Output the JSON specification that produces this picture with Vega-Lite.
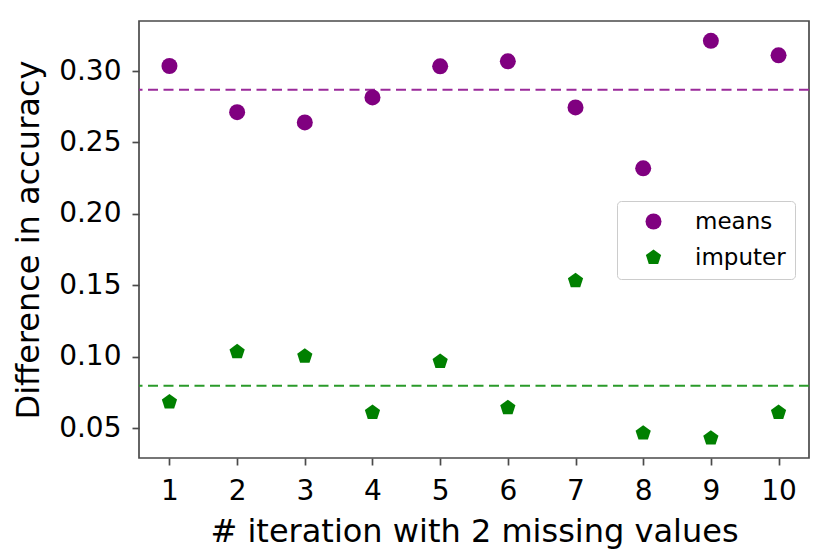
{
  "$schema": "https://vega.github.io/schema/vega-lite/v6.json",
  "width": 670,
  "height": 437,
  "autosize": {"type": "none"},
  "padding": {"left": 139, "top": 21, "right": 21, "bottom": 100},
  "background": "white",
  "config": {
    "font": "DejaVu Sans",
    "view": {"stroke": "#4a4a4a", "strokeWidth": 1.7},
    "axis": {
      "domain": false,
      "grid": false,
      "tickColor": "#4a4a4a",
      "tickWidth": 1.7,
      "tickSize": 7,
      "labelColor": "black",
      "labelFontSize": 28,
      "titleColor": "black",
      "titleFontSize": 32,
      "titleFontWeight": "normal",
      "labelFlush": false,
      "labelOverlap": false
    }
  },
  "data": {
    "values": [
      {"iteration": 1, "method": "means", "diff": 0.3035},
      {"iteration": 2, "method": "means", "diff": 0.2712},
      {"iteration": 3, "method": "means", "diff": 0.2640},
      {"iteration": 4, "method": "means", "diff": 0.2815},
      {"iteration": 5, "method": "means", "diff": 0.3033},
      {"iteration": 6, "method": "means", "diff": 0.3068},
      {"iteration": 7, "method": "means", "diff": 0.2745},
      {"iteration": 8, "method": "means", "diff": 0.2319},
      {"iteration": 9, "method": "means", "diff": 0.3211},
      {"iteration": 10, "method": "means", "diff": 0.3110},
      {"iteration": 1, "method": "imputer", "diff": 0.0683},
      {"iteration": 2, "method": "imputer", "diff": 0.1034},
      {"iteration": 3, "method": "imputer", "diff": 0.1003},
      {"iteration": 4, "method": "imputer", "diff": 0.0610},
      {"iteration": 5, "method": "imputer", "diff": 0.0966},
      {"iteration": 6, "method": "imputer", "diff": 0.0643},
      {"iteration": 7, "method": "imputer", "diff": 0.1532},
      {"iteration": 8, "method": "imputer", "diff": 0.0465},
      {"iteration": 9, "method": "imputer", "diff": 0.0430},
      {"iteration": 10, "method": "imputer", "diff": 0.0610}
    ]
  },
  "layer": [
    {
      "transform": [
        {"filter": "datum.method === 'means'"},
        {"aggregate": [{"op": "mean", "field": "diff", "as": "avg"}]}
      ],
      "mark": {"type": "rule", "color": "#9a2a9a", "strokeDash": [10, 5.5], "strokeWidth": 2},
      "encoding": {"y": {"field": "avg", "type": "quantitative"}}
    },
    {
      "transform": [
        {"filter": "datum.method === 'imputer'"},
        {"aggregate": [{"op": "mean", "field": "diff", "as": "avg"}]}
      ],
      "mark": {"type": "rule", "color": "#2a9a2a", "strokeDash": [10, 5.5], "strokeWidth": 2},
      "encoding": {"y": {"field": "avg", "type": "quantitative"}}
    },
    {
      "mark": {"type": "point", "filled": true, "opacity": 1, "size": 256},
      "encoding": {
        "x": {
          "field": "iteration",
          "type": "quantitative",
          "scale": {"domain": [0.55, 10.45], "nice": false, "zero": false},
          "axis": {
            "title": "# iteration with 2 missing values",
            "values": [1, 2, 3, 4, 5, 6, 7, 8, 9, 10],
            "format": "d",
            "labelPadding": 12,
            "titleBaseline": "alphabetic",
            "titleY": 83
          }
        },
        "y": {
          "field": "diff",
          "type": "quantitative",
          "scale": {"domain": [0.0291, 0.335], "nice": false, "zero": false},
          "axis": {
            "title": "Difference in accuracy",
            "values": [0.05, 0.1, 0.15, 0.2, 0.25, 0.3],
            "format": ".2f",
            "labelPadding": 11,
            "titleBaseline": "alphabetic",
            "titleX": -101
          }
        },
        "color": {
          "field": "method",
          "type": "nominal",
          "scale": {"domain": ["means", "imputer"], "range": ["#800080", "#008000"]},
          "legend": {
            "title": null,
            "orient": "none",
            "legendX": 478,
            "legendY": 180,
            "padding": 9,
            "strokeColor": "#cccccc",
            "fillColor": "white",
            "cornerRadius": 4,
            "symbolSize": 256,
            "labelFontSize": 23,
            "labelColor": "black",
            "rowPadding": 12,
            "symbolOffset": 16,
            "labelOffset": 30
          }
        },
        "shape": {
          "field": "method",
          "type": "nominal",
          "scale": {"domain": ["means", "imputer"], "range": ["circle", "M0,-1L0.951,-0.309L0.588,0.809L-0.588,0.809L-0.951,-0.309Z"]}
        }
      }
    }
  ]
}
